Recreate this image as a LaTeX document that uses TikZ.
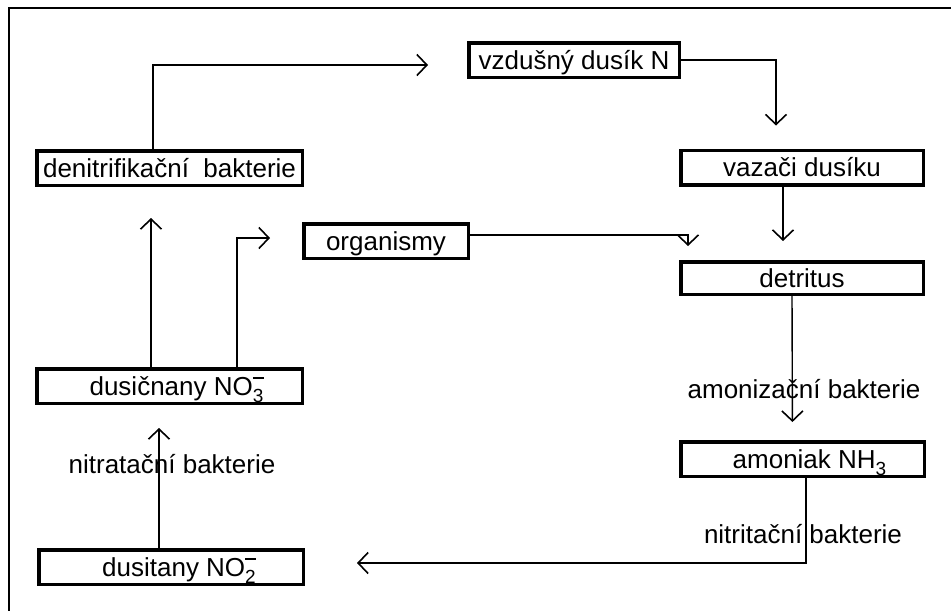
\documentclass[tikz,border=0pt]{standalone}
\usepackage{fontspec}
\setmainfont{Liberation Sans}
\usetikzlibrary{arrows.meta}
\newcommand\subbar[1]{\rlap{\raisebox{0.62em}{\rule{0.42em}{0.07em}}}\raisebox{-0.3em}{\fontsize{19}{20}\selectfont #1}}
\newcommand\subnum[1]{\raisebox{-0.3em}{\fontsize{19}{20}\selectfont #1}}
\begin{document}
\begin{tikzpicture}[x=1pt,y=-1pt,
  every node/.style={font=\fontsize{26}{30}\selectfont, inner sep=0pt},
  box/.style={draw, line width=3.5pt, minimum height=34.5pt, text height=19pt, text depth=1pt},
  arr/.style={line width=1.4pt, -{Straight Barb[length=10pt,width=21pt,line width=1.6pt]}},
  frameline/.style={line width=1.8pt}]
\useasboundingbox (0,0) rectangle (951,611);
\coordinate (ftl) at (9,8);
\coordinate (ftr) at (951,8);
\coordinate (fbl) at (9,611);
\draw[frameline] (ftr) -- (ftl) -- (fbl);

\node[box, minimum width=265.5pt] (den) at (169.5,168) {denitrifikační\ \ bakterie};
\node[box, minimum width=210.5pt] (vzd) at (574,60) {vzdušný dusík N};
\node[box, minimum width=242.5pt] (vaz) at (802,167.5) {vazači dusíku};
\node[box, minimum width=164.5pt] (org) at (386,241) {organismy};
\node[box, minimum width=242.5pt, minimum height=32.5pt] (det) at (802,278) {detritus};
\node[box, minimum width=265.5pt] (dn) at (169.5,386) {\hspace*{14pt}dusičnany NO\subbar{3}};
\node[box, minimum width=243.5pt] (amo) at (802.5,459) {\hspace*{14pt}amoniak NH\subnum{3}};
\node[box, minimum width=264.5pt] (dt) at (171,567) {\hspace*{16pt}dusitany NO\subbar{2}};

\node[text height=19pt, text depth=1pt] (lamon) at (804,389) {amonizační bakterie};
\node[text height=19pt, text depth=1pt] (lnitri) at (803,534) {nitritační bakterie};
\node[text height=19pt, text depth=1pt] (lnitra) at (172,464) {nitratační bakterie};

\draw[arr, shorten >=39pt] ([xshift=-16.5pt]den.north) |- ([yshift=-5pt]vzd.west);
\draw[arr, shorten >=23pt] (vzd.east) -| ([xshift=-26pt]vaz.north);
\draw[arr, shorten >=19pt] ([xshift=-19pt]vaz.south) -- ([xshift=-19pt]det.north);
\draw[arr, shorten >=14pt] ([yshift=6pt]org.east) -| ([xshift=9pt]det.north west);
\draw[arr, shorten >=18pt] ([xshift=-10pt]det.south) -- ([xshift=-10pt]amo.north);
\draw[arr, shorten >=52pt] ([xshift=3.5pt]amo.south) |- ([yshift=4pt]dt.east);
\draw[arr, shorten >=23pt] ([xshift=-12pt]dt.north) -- ([xshift=-10.5pt]dn.south);
\draw[arr, shorten >=31pt] ([xshift=-18.5pt]dn.north) -- ([xshift=-18.5pt]den.south);
\draw[arr, shorten >=32pt] ([xshift=67.5pt]dn.north) |- ([yshift=3pt]org.west);
\end{tikzpicture}
\end{document}
